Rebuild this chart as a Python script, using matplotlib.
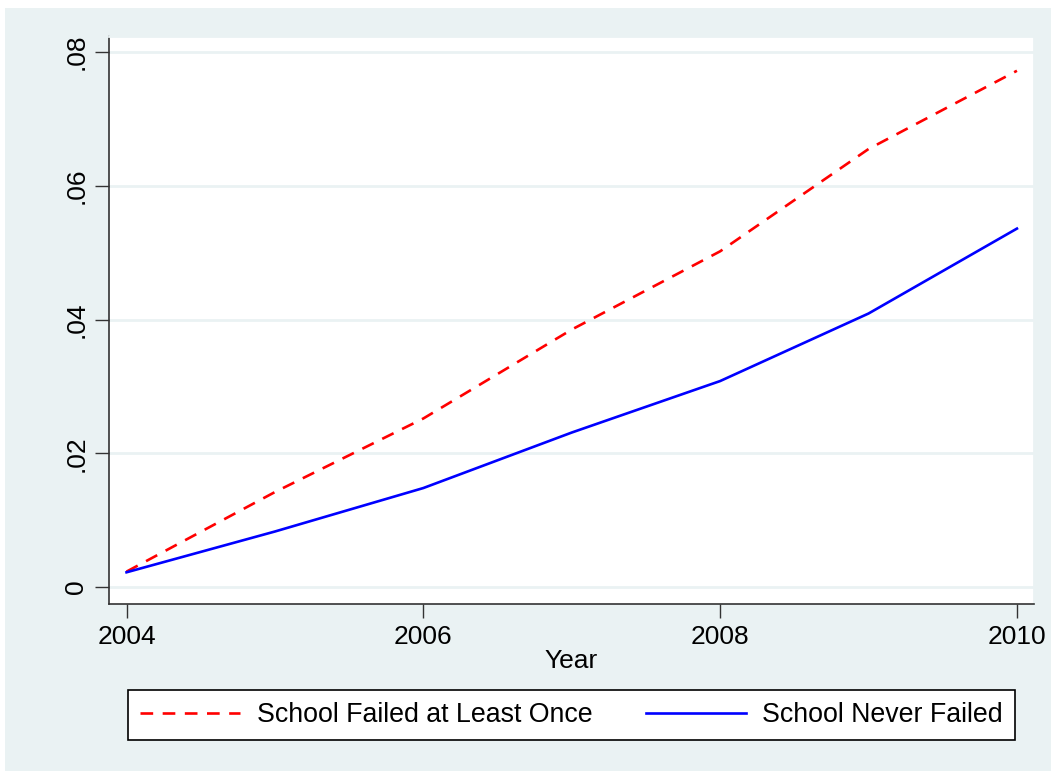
import matplotlib
matplotlib.use("Agg")
import matplotlib.pyplot as plt
from matplotlib.patches import Rectangle

years = [2004, 2005, 2006, 2007, 2008, 2009, 2010]
failed = [0.0023, 0.0142, 0.0252, 0.0385, 0.0502, 0.0655, 0.0772]
never = [0.0022, 0.0083, 0.0148, 0.0231, 0.0308, 0.0409, 0.0536]
yticks = [0, 0.02, 0.04, 0.06, 0.08]
ytick_labels = ["0", ".02", ".04", ".06", ".08"]
xticks = [2004, 2006, 2008, 2010]
labels = ["School Failed at Least Once", "School Never Failed"]

bg = "#EAF2F3"
plt.rcParams['font.family'] = ['Liberation Sans', 'DejaVu Sans']

fig = plt.figure(figsize=(10.51, 7.71), dpi=100, facecolor="white")
fig.patches.append(Rectangle((5/1051, 0), 1 - 5/1051, 1 - 8/771,
                             transform=fig.transFigure, facecolor=bg,
                             edgecolor="none", zorder=-10))

ax = fig.add_axes([109/1051, 1 - 604/771, (1034 - 109)/1051, (604 - 36)/771])
ax.set_zorder(2)
ax.set_facecolor("white")
ax.plot(years, failed, color="red", lw=1.9, dashes=(4.8, 3.6), label=labels[0])
ax.plot(years, never, color="blue", lw=1.9, label=labels[1])

ax.set_xlim(2004 - 0.118, 2010 + 0.115)
ax.set_ylim(-0.00254, 0.0824)
ax.set_yticks(yticks)
ax.set_yticklabels(ytick_labels, rotation=90, va="center")
ax.set_xticks(xticks)
ax.grid(axis="y", color=bg, lw=2)
ax.set_axisbelow(True)
for s in ["top", "right"]:
    ax.spines[s].set_color(bg)
    ax.spines[s].set_linewidth(2)
for s in ["left", "bottom"]:
    ax.spines[s].set_color("#333333")
    ax.spines[s].set_linewidth(1.2)
ax.tick_params(axis="both", length=10, width=1, color="#333333",
               labelsize=19, pad=5)
ax.set_xlabel("Year", fontsize=19, labelpad=0)

leg = fig.legend(loc="center", bbox_to_anchor=((128 + 1015) / 2 / 1051, 1 - 715 / 771),
                 ncol=2, fontsize=19.3, frameon=True, fancybox=False,
                 edgecolor="black", framealpha=1, handlelength=3.75,
                 handletextpad=0.6, columnspacing=2.0, borderpad=0.45)
leg.set_zorder(5)
leg.get_frame().set_linewidth(1.2)

fig.savefig("out.png", dpi=100, facecolor=fig.get_facecolor())
